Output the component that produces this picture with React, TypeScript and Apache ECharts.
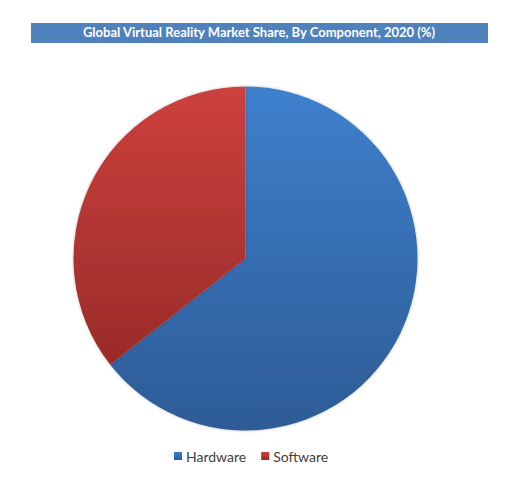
import React, { useEffect, useRef } from 'react';
import * as echarts from 'echarts';

const titleText = 'Global Virtual Reality Market Share, By Component, 2020 (%)';
const categories = ['Hardware', 'Software'];
const shares = [64.4, 35.6];
const topColors = ['#3e80cd', '#cd403d'];
const bottomColors = ['#2d5b95', '#992b29'];

const App: React.FC = () => {
  const chartRef = useRef<HTMLDivElement>(null);

  useEffect(() => {
    const chart = echarts.init(chartRef.current!, undefined, { renderer: 'svg' });

    const option = {
      animation: false,
      backgroundColor: '#ffffff',
      title: {
        text: titleText,
        left: 259,
        top: 25,
        textAlign: 'center',
        padding: 0,
        textStyle: {
          color: '#ffffff',
          fontFamily: 'Lato',
          fontWeight: 'bold',
          fontSize: 13
        }
      },
      graphic: [
        {
          type: 'rect',
          z: -1,
          shape: { x: 31, y: 23, width: 457, height: 20 },
          style: { fill: '#4f81bd' }
        }
      ],
      legend: {
        data: categories,
        top: 449,
        left: 174,
        padding: 0,
        icon: 'rect',
        itemWidth: 8,
        itemHeight: 8,
        itemGap: 15,
        textStyle: { color: '#404040', fontFamily: 'Lato', fontSize: 14, padding: [0, 0, 0, -1] }
      },
      series: [
        {
          type: 'pie',
          center: [245.5, 258.5],
          radius: 172,
          startAngle: 90,
          label: { show: false },
          labelLine: { show: false },
          emphasis: { disabled: true },
          data: categories.map((name, i) => ({
            name,
            value: shares[i],
            itemStyle: {
              color: new echarts.graphic.LinearGradient(0, 0, 0, 1, [
                { offset: 0, color: topColors[i] },
                { offset: 1, color: bottomColors[i] }
              ]),
              shadowBlur: 3,
              shadowColor: 'rgba(0,0,0,0.25)'
            }
          }))
        }
      ]
    };

    chart.setOption(option);

    return () => {
      chart.dispose();
    };
  }, []);

  return (
    <div
      ref={chartRef}
      style={{ position: 'fixed', left: 0, top: 0, width: '527px', height: '496px' }}
    />
  );
};

export default App;
